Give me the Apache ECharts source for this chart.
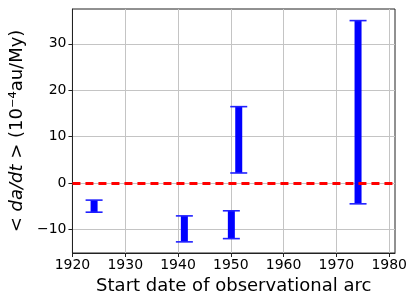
<!DOCTYPE html>
<html>
<head>
<meta charset="utf-8">
<script src="https://cdn.jsdelivr.net/npm/echarts@6/dist/echarts.min.js"></script>
<style>html,body{margin:0;padding:0;background:#fff}#c{width:415px;height:302px}</style>
</head>
<body>
<div id="c"></div>
<script>
var startYears = [1924.1, 1941.2, 1950.1, 1951.5, 1974.1];
var lowerValues = [-6.3, -12.7, -12.0, 2.15, -4.5];
var upperValues = [-3.7, -7.1, -6.0, 16.45, 35.0];
var xTicks = [1920, 1930, 1940, 1950, 1960, 1970, 1980];
var yTicks = [-10, 0, 10, 20, 30];
var refLine = 0;

var FONT = 'DejaVu Sans';
function fmt(v){ return v < 0 ? '\u2212' + Math.abs(v) : String(v); }

var data = startYears.map(function(x, i){ return [x, lowerValues[i], upperValues[i]]; });

var chart = echarts.init(document.getElementById('c'), null, {renderer:'canvas'});
chart.setOption({
  animation: false,
  grid: {left: 68, right: 20, top: 9, bottom: 49, show: true, borderColor: '#222', borderWidth: 1, backgroundColor: 'transparent'},
  xAxis: {
    type: 'value', min: 1920, max: 1981.1,
    name: 'Start date of observational arc', nameLocation: 'middle', nameGap: 23,
    nameTextStyle: {fontFamily: FONT, fontSize: 18, color: '#000'},
    axisLine: {show: true, onZero: false, lineStyle: {color: '#222'}},
    axisTick: {show: true, length: 4, customValues: xTicks, lineStyle: {color: '#222'}},
    axisLabel: {customValues: xTicks, fontFamily: FONT, fontSize: 14, color: '#000', margin: 5, formatter: fmt},
    splitLine: {show: true, lineStyle: {color: '#c4c4c4', width: 1}}
  },
  yAxis: {
    type: 'value', min: -15.1, max: 37.5,
    name: '< {i|da/dt} > (10\u207B\u2074au/My)', nameLocation: 'middle', nameGap: 37, nameRotate: 90,
    nameTextStyle: {fontFamily: FONT, fontSize: 18, color: '#000', rich: {i: {fontFamily: FONT, fontSize: 18, fontStyle: 'italic', color: '#000'}}},
    axisLine: {show: true, onZero: false, lineStyle: {color: '#222'}},
    axisTick: {show: true, length: 4, customValues: yTicks, lineStyle: {color: '#222'}},
    axisLabel: {customValues: yTicks, fontFamily: FONT, fontSize: 14, color: '#000', margin: 6, formatter: fmt},
    splitLine: {show: true, lineStyle: {color: '#c4c4c4', width: 1}}
  },
  series: [{
    type: 'custom',
    data: data,
    encode: {x: 0, y: [1, 2]},
    renderItem: function(params, api){
      var x = api.value(0);
      var p1 = api.coord([x, api.value(1)]);
      var p2 = api.coord([x, api.value(2)]);
      var bw = 7, cw = 17;
      return {type: 'group', children: [
        {type: 'rect', shape: {x: p1[0] - bw/2, y: p2[1], width: bw, height: p1[1] - p2[1]}, style: {fill: '#0000ff'}},
        {type: 'line', shape: {x1: p1[0] - cw/2, y1: p1[1], x2: p1[0] + cw/2, y2: p1[1]}, style: {stroke: '#2020ff', lineWidth: 1.6}},
        {type: 'line', shape: {x1: p2[0] - cw/2, y1: p2[1], x2: p2[0] + cw/2, y2: p2[1]}, style: {stroke: '#2020ff', lineWidth: 1.6}}
      ]};
    },
    markLine: {
      silent: true, symbol: 'none', label: {show: false}, z: 10,
      lineStyle: {color: '#ff0000', type: [8, 5], width: 3},
      data: [{yAxis: refLine}]
    }
  }]
});
</script>
</body>
</html>
